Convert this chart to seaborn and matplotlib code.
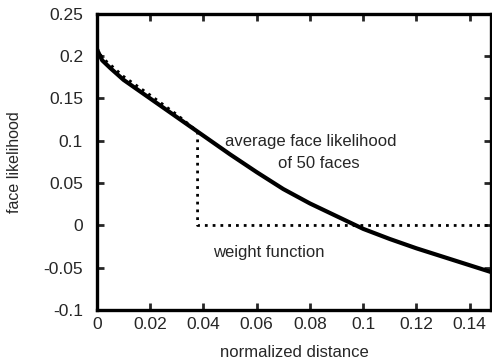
import numpy as np
import pandas as pd
import matplotlib
matplotlib.use("Agg")
import matplotlib.pyplot as plt
import seaborn as sns

# average face likelihood (solid curve)
dist = [0.0, 0.002, 0.005, 0.01, 0.02, 0.03, 0.04, 0.05, 0.06, 0.07,
        0.08, 0.09, 0.1, 0.11, 0.12, 0.13, 0.14, 0.148]
likelihood = [0.208, 0.195, 0.186, 0.172, 0.150, 0.128, 0.106, 0.084, 0.063, 0.043,
              0.026, 0.011, -0.004, -0.016, -0.027, -0.037, -0.047, -0.055]

# weight function (dotted)
w_dist = [0.0, 0.002, 0.005, 0.01, 0.02, 0.03, 0.0378, 0.0378, 0.148]
w_value = [0.210, 0.198, 0.190, 0.176, 0.154, 0.131, 0.111, 0.0, 0.0]

x_ticks = [0, 0.02, 0.04, 0.06, 0.08, 0.1, 0.12, 0.14]
y_ticks = [-0.1, -0.05, 0, 0.05, 0.1, 0.15, 0.2, 0.25]

sns.set_theme(style="ticks")
plt.rcParams['font.family'] = ['Liberation Sans', 'DejaVu Sans']

fig = plt.figure(figsize=(4.92, 3.64), dpi=100)
ax = fig.add_axes([0.197, 0.148, 0.801, 0.814])

df_curve = pd.DataFrame({"dist": dist, "val": likelihood})
df_w = pd.DataFrame({"dist": w_dist, "val": w_value})
sns.lineplot(data=df_w, x="dist", y="val", ax=ax, color="black", lw=2,
             linestyle=(0, (1, 1.8)), sort=False, estimator=None)
sns.lineplot(data=df_curve, x="dist", y="val", ax=ax, color="black", lw=3,
             sort=False, estimator=None)

ax.set_xlim(0, 0.148)
ax.set_ylim(-0.1, 0.25)
ax.set_xticks(x_ticks)
ax.set_xticklabels(["0", "0.02", "0.04", "0.06", "0.08", "0.1", "0.12", "0.14"])
ax.set_yticks(y_ticks)
ax.set_yticklabels(["-0.1", "-0.05", "0", "0.05", "0.1", "0.15", "0.2", "0.25"])
ax.tick_params(direction="in", length=5, width=2, top=True, right=True,
               labelsize=12.5)
ax.tick_params(axis="x", pad=5)
ax.tick_params(axis="y", pad=10)
for s in ax.spines.values():
    s.set_linewidth(2.4)
    s.set_color("black")

ax.set_xlabel("normalized distance", fontsize=12)
ax.set_ylabel("face likelihood", fontsize=11.5)
ax.xaxis.set_label_coords(0.5, -0.118)
ax.yaxis.set_label_coords(-0.19, 0.5)

ax.text(0.048, 0.099, "average face likelihood", fontsize=12, ha="left", va="center")
ax.text(0.0835, 0.073, "of 50 faces", fontsize=12, ha="center", va="center")
ax.text(0.0435, -0.032, "weight function", fontsize=12, ha="left", va="center")

fig.savefig("out.png", dpi=100)
